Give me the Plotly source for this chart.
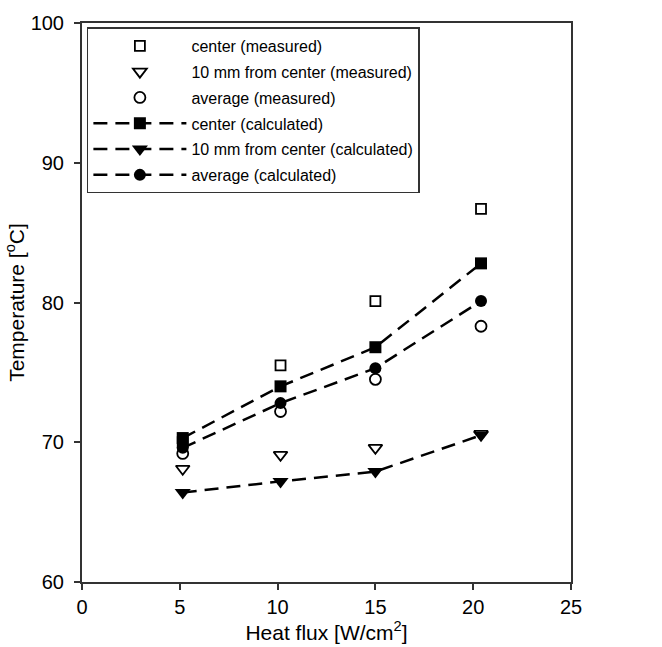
import plotly.graph_objects as go

heat_flux = [5.15, 10.15, 15.0, 20.4]

center_measured = [70.0, 75.5, 80.1, 86.7]
mm10_measured = [68.1, 69.1, 69.6, 70.6]
average_measured = [69.2, 72.2, 74.5, 78.3]
center_calculated = [70.3, 74.0, 76.8, 82.8]
mm10_calculated = [66.4, 67.2, 67.9, 70.5]
average_calculated = [69.6, 72.8, 75.3, 80.1]

x_ticks = [0, 5, 10, 15, 20, 25]
y_ticks = [60, 70, 80, 90, 100]

FONT = "Liberation Sans, Arial, sans-serif"

fig = go.Figure()

def meas(y, name, symbol, size):
    fig.add_trace(go.Scatter(
        x=heat_flux, y=y, name=name, mode="markers", legendgroup=name,
        marker=dict(symbol=symbol, size=size, color="white",
                    line=dict(color="black", width=1.8)),
    ))

def calc(y, name, symbol, size):
    fig.add_trace(go.Scatter(
        x=heat_flux, y=y, name=name, mode="lines+markers", legendgroup=name,
        line=dict(color="black", width=2.5, dash="14px,8px"),
        marker=dict(symbol=symbol, size=size, color="black"),
    ))

meas(center_measured, "center (measured)", "square", 10)
meas(mm10_measured, "10 mm from center (measured)", "triangle-down", 12)
meas(average_measured, "average (measured)", "circle", 11)
calc(center_calculated, "center (calculated)", "square", 12)
calc(mm10_calculated, "10 mm from center (calculated)", "triangle-down", 14)
calc(average_calculated, "average (calculated)", "circle", 12)

axis_common = dict(
    showline=True, linecolor="#333333", linewidth=2, mirror=True,
    ticks="outside", ticklen=6, tickcolor="#333333", tickwidth=1.5,
    showgrid=False, zeroline=False,
    tickfont=dict(family=FONT, size=20, color="black"),
    title_font=dict(family=FONT, size=21, color="black"),
)

fig.update_xaxes(range=[0, 25], tickvals=x_ticks,
                 title_text="Heat flux [W/cm<sup>2</sup>]", title_standoff=2, **axis_common)
fig.update_yaxes(range=[60, 100], tickvals=y_ticks, ticklabelstandoff=6,
                 title_text="Temperature [<sup>o</sup>C]", title_standoff=0, **axis_common)

fig.update_layout(
    width=662, height=647,
    margin=dict(l=82, r=91, t=20, b=62),
    paper_bgcolor="white", plot_bgcolor="white",
    showlegend=True,
    legend=dict(
        x=0.01, y=0.992, xanchor="left", yanchor="top",
        bgcolor="white", bordercolor="#333333", borderwidth=1.5,
        font=dict(family=FONT, size=16, color="black"),
        itemwidth=93, tracegroupgap=2,
    ),
)

fig.write_html("out.html")
